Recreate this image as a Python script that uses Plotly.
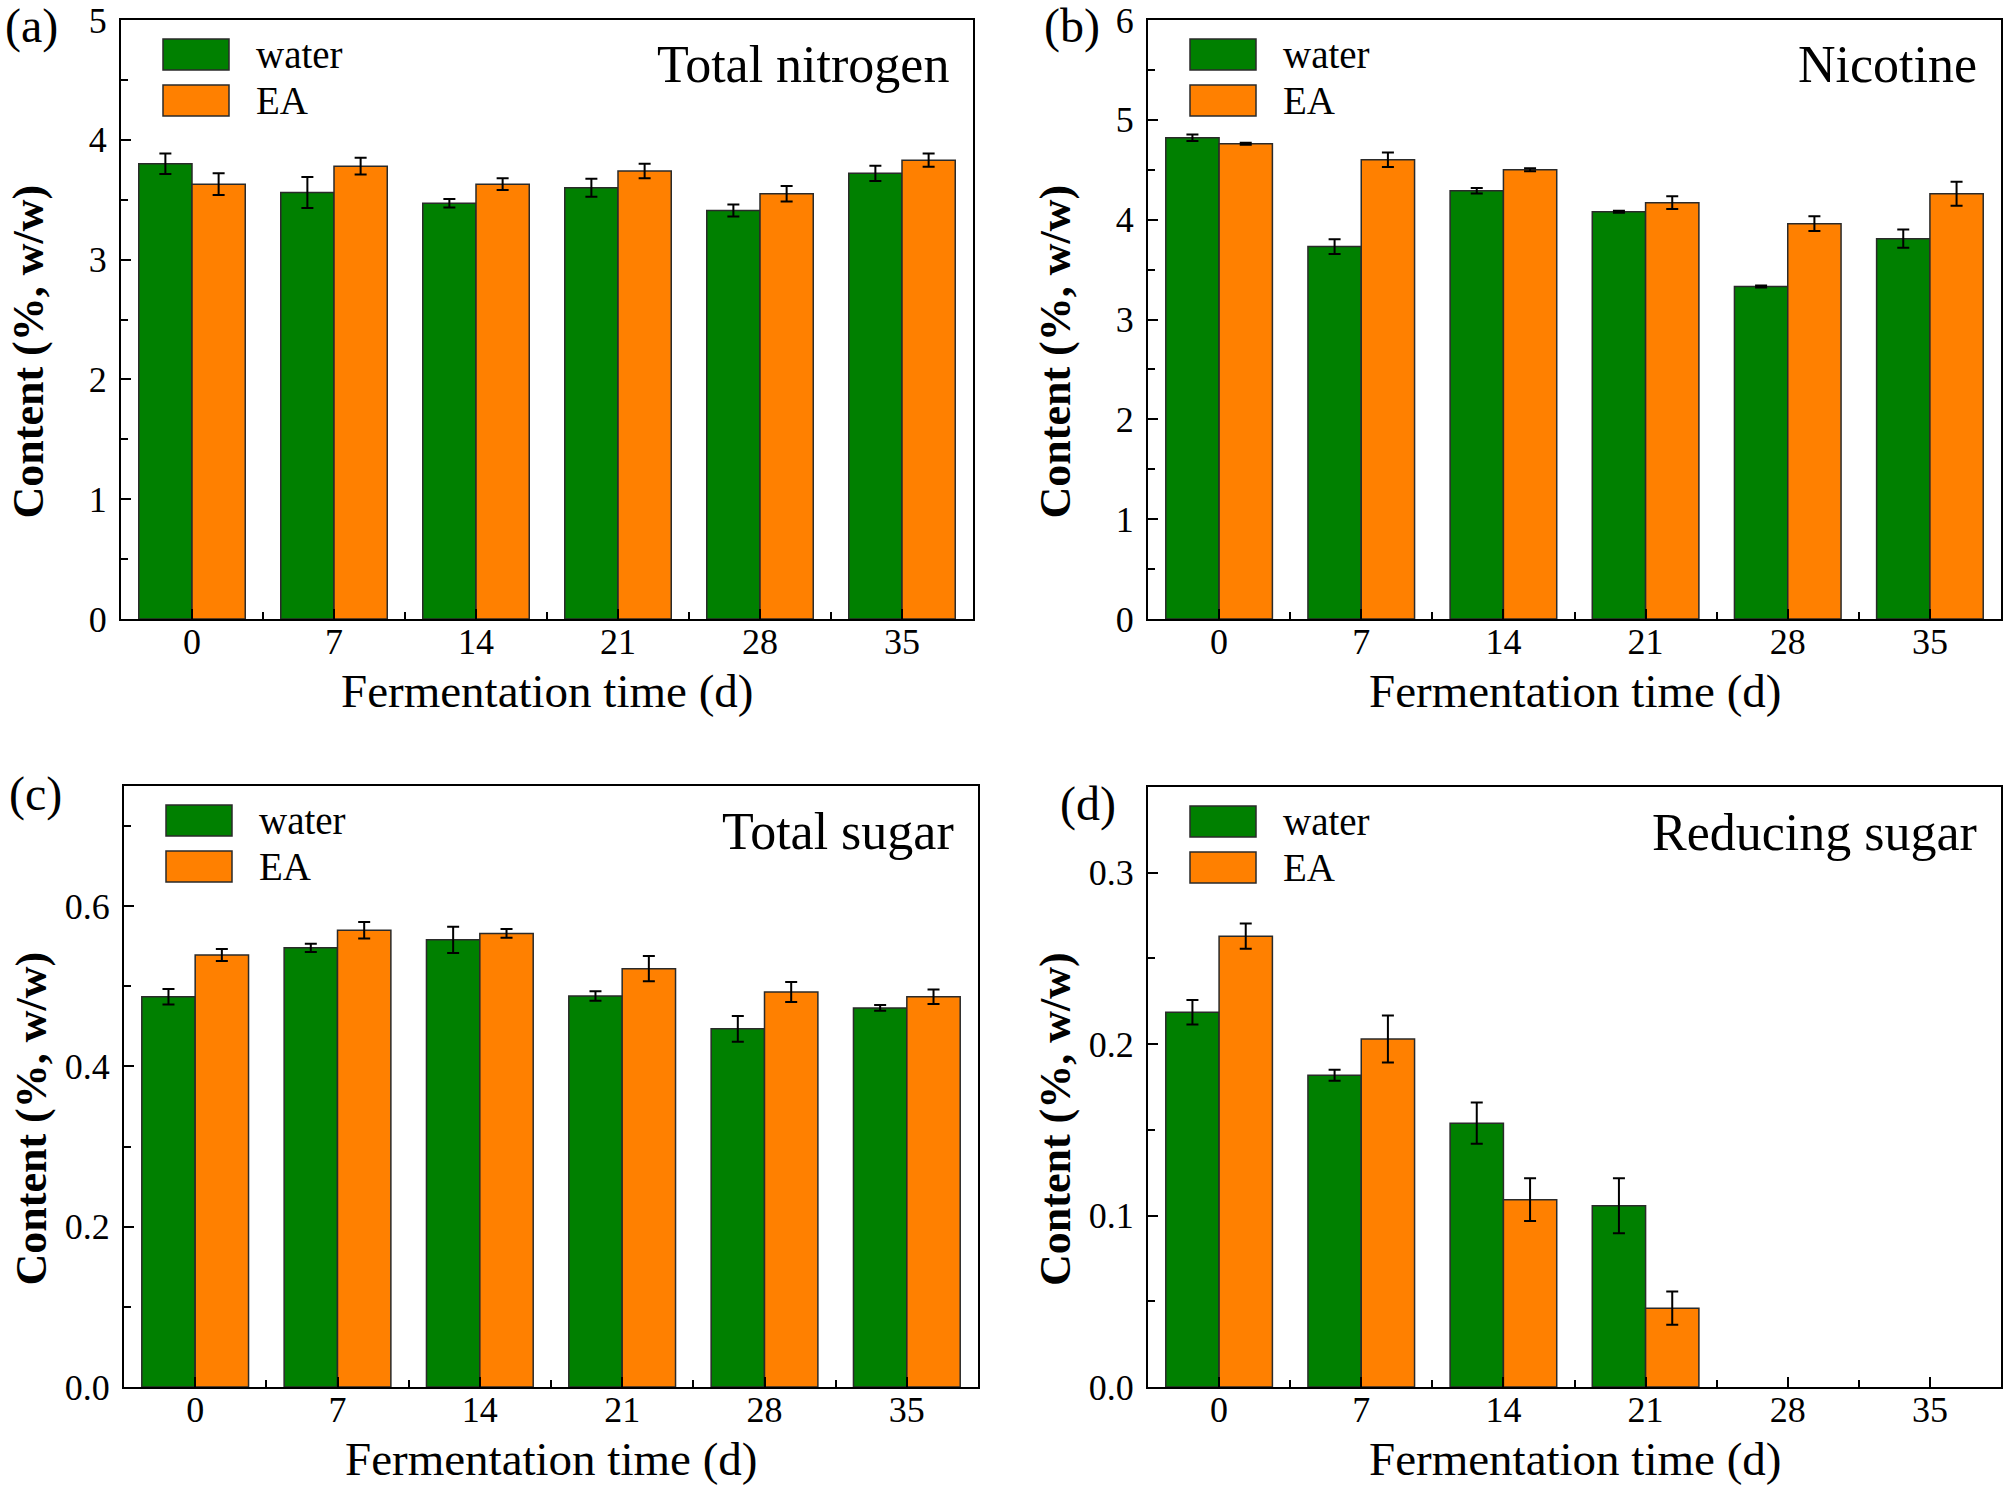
import plotly.graph_objects as go

W, H = 2007, 1489

days = ["0", "7", "14", "21", "28", "35"]
xpos = [0, 1, 2, 3, 4, 5]

tn_water = [3.80, 3.56, 3.47, 3.60, 3.41, 3.72]
tn_water_err = [0.085, 0.13, 0.035, 0.075, 0.05, 0.063]
tn_ea = [3.63, 3.78, 3.63, 3.74, 3.55, 3.83]
tn_ea_err = [0.09, 0.07, 0.05, 0.06, 0.065, 0.055]

nic_water = [4.82, 3.73, 4.29, 4.08, 3.33, 3.81]
nic_water_err = [0.033, 0.073, 0.028, 0.01, 0.01, 0.092]
nic_ea = [4.76, 4.60, 4.50, 4.17, 3.96, 4.26]
nic_ea_err = [0.01, 0.073, 0.015, 0.064, 0.073, 0.12]

ts_water = [0.487, 0.548, 0.558, 0.488, 0.447, 0.473]
ts_water_err = [0.0098, 0.005, 0.0164, 0.006, 0.016, 0.0036]
ts_ea = [0.539, 0.570, 0.566, 0.522, 0.493, 0.487]
ts_ea_err = [0.0075, 0.0104, 0.0054, 0.0158, 0.0125, 0.009]

rs_water = [0.2186, 0.1818, 0.1539, 0.1057, None, None]
rs_water_err = [0.0072, 0.0032, 0.012, 0.016, None, None]
rs_ea = [0.263, 0.203, 0.1093, 0.046, None, None]
rs_ea_err = [0.0074, 0.0137, 0.0125, 0.0097, None, None]

series_names = ["water", "EA"]
panel_titles = ["Total nitrogen", "Nicotine", "Total sugar", "Reducing sugar"]
panel_letters = ["(a)", "(b)", "(c)", "(d)"]
x_title = "Fermentation time (d)"
y_title = "Content (%, w/w)"

GREEN = "#008000"
ORANGE = "#FF8000"
FONT = "Liberation Serif"

# plot boxes in pixels: left, right, top, bottom
boxes = [
    (121, 973, 20, 619),
    (1148, 2001, 20, 619),
    (124, 978, 786, 1387),
    (1148, 2001, 787, 1387),
]
yranges = [[0, 5], [0, 6], [0, 0.75], [0, 0.35]]
ydticks = [1, 1, 0.2, 0.1]
yminor = [0.5, 0.5, 0.1, 0.05]
yfmt = ["d", "d", ".1f", ".1f"]

data = [
    (tn_water, tn_water_err, tn_ea, tn_ea_err),
    (nic_water, nic_water_err, nic_ea, nic_ea_err),
    (ts_water, ts_water_err, ts_ea, ts_ea_err),
    (rs_water, rs_water_err, rs_ea, rs_ea_err),
]


def px(x):
    return x / W


def py(y):
    return 1 - y / H


fig = go.Figure()
annotations = []
shapes = []

for i, (wv, we, ev, ee) in enumerate(data):
    n = "" if i == 0 else str(i + 1)
    xa, ya = "x" + n, "y" + n
    for vals, errs, col, name in [(wv, we, GREEN, series_names[0]), (ev, ee, ORANGE, series_names[1])]:
        fig.add_trace(go.Bar(
            x=xpos, y=vals, name=name, xaxis=xa, yaxis=ya, showlegend=False,
            marker=dict(color=col, line=dict(color="#2a2a2a", width=1.5)),
            error_y=dict(type="data", array=errs, visible=True, color="black",
                         thickness=2, width=6),
        ))
    l, r, t, b = boxes[i]
    axis_common = dict(showline=True, linecolor="black", linewidth=2, mirror=True,
                       showgrid=False, zeroline=False, ticks="inside",
                       tickcolor="black", tickwidth=2, automargin=False,
                       tickfont=dict(family=FONT, size=36, color="black"))
    fig.layout["xaxis" + n] = dict(
        domain=[px(l), px(r)], anchor=ya, range=[-0.5, 5.5],
        tickmode="array", tickvals=xpos, ticktext=days, ticklen=10,
        minor=dict(tickvals=[0.5, 1.5, 2.5, 3.5, 4.5], ticks="inside", ticklen=7,
                   tickcolor="black", tickwidth=2),
        ticklabelstandoff=-10,
        **axis_common)
    fig.layout["yaxis" + n] = dict(
        domain=[py(b), py(t)], anchor=xa, range=yranges[i],
        tickmode="linear", tick0=0, dtick=ydticks[i], tickformat=yfmt[i], ticklen=10,
        minor=dict(dtick=yminor[i], tick0=0, ticks="inside", ticklen=7,
                   tickcolor="black", tickwidth=2),
        ticklabelstandoff=5,
        **axis_common)

    # legend boxes and labels
    for k, (col, name) in enumerate([(GREEN, series_names[0]), (ORANGE, series_names[1])]):
        top = t + 19 + k * 46
        shapes.append(dict(type="rect", xref="paper", yref="paper",
                           x0=px(l + 42), x1=px(l + 108), y0=py(top + 31), y1=py(top),
                           fillcolor=col, line=dict(color="#2a2a2a", width=1.5)))
        annotations.append(dict(xref="paper", yref="paper", x=px(l + 133), y=py(top + 15.5),
                                text=name, showarrow=False, xanchor="left", yanchor="middle",
                                font=dict(family=FONT, size=39, color="black")))
    # panel title
    annotations.append(dict(xref="paper", yref="paper", x=px(r - 22), y=py(t + 45),
                            text=panel_titles[i], showarrow=False, xanchor="right",
                            yanchor="middle", font=dict(family=FONT, size=52, color="black")))
    # x title
    annotations.append(dict(xref="paper", yref="paper", x=px((l + r) / 2), y=py(b + 72),
                            text=x_title, showarrow=False, xanchor="center", yanchor="middle",
                            font=dict(family=FONT, size=47, color="black")))
    # y title
    annotations.append(dict(xref="paper", yref="paper", x=px(l - 93), y=py((t + b) / 2 + 32),
                            text="<b>" + y_title + "</b>", showarrow=False, textangle=-90,
                            xanchor="center", yanchor="middle",
                            font=dict(family=FONT, size=44, color="black")))

letter_pos = [(31, 26), (1072, 26), (35, 794), (1088, 804)]
for (lx, ly), lt in zip(letter_pos, panel_letters):
    annotations.append(dict(xref="paper", yref="paper", x=px(lx), y=py(ly), text=lt,
                            showarrow=False, xanchor="center", yanchor="middle",
                            font=dict(family=FONT, size=48, color="black")))

fig.update_layout(
    width=W, height=H, margin=dict(l=0, r=0, t=0, b=0, autoexpand=False),
    paper_bgcolor="white", plot_bgcolor="white",
    barmode="group", bargap=0.25, bargroupgap=0,
    showlegend=False, annotations=annotations, shapes=shapes,
)

fig.write_html("out.html")
